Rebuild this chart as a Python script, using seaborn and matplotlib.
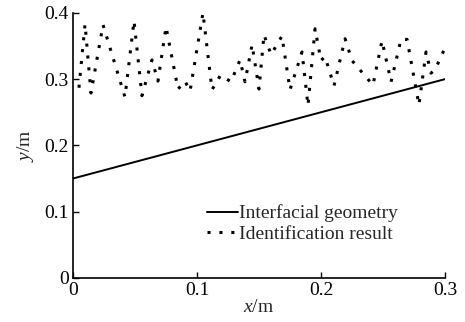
import matplotlib
matplotlib.use("Agg")
import matplotlib.pyplot as plt
import seaborn as sns
import pandas as pd

# interfacial geometry (straight line)
geom_x = [0.0, 0.3]
geom_y = [0.15, 0.30]

# identification result
ident_x = [0.0048, 0.0097, 0.0145, 0.0242, 0.0419, 0.0492, 0.0556, 0.0637, 0.0685,
           0.0750, 0.0847, 0.0903, 0.0944, 0.1048, 0.1121, 0.1190, 0.1274, 0.1347,
           0.1387, 0.1444, 0.1500, 0.1540, 0.1597, 0.1685, 0.1750, 0.1847, 0.1895,
           0.1952, 0.2000, 0.2032, 0.2105, 0.2194, 0.2250, 0.2419, 0.2492, 0.2565,
           0.2645, 0.2694, 0.2790, 0.2847, 0.2887, 0.2919, 0.3000]
ident_y = [0.287, 0.383, 0.279, 0.382, 0.273, 0.388, 0.275, 0.329, 0.297,
           0.379, 0.285, 0.297, 0.282, 0.400, 0.284, 0.306, 0.296, 0.329,
           0.296, 0.352, 0.285, 0.367, 0.337, 0.365, 0.284, 0.341, 0.260,
           0.376, 0.328, 0.334, 0.290, 0.361, 0.328, 0.291, 0.358, 0.296,
           0.360, 0.360, 0.261, 0.341, 0.309, 0.314, 0.347]

x_ticks = [0, 0.1, 0.2, 0.3]
x_ticklabels = ["0", "0.1", "0.2", "0.3"]
y_ticks = [0, 0.1, 0.2, 0.3, 0.4]
y_ticklabels = ["0", "0.1", "0.2", "0.3", "0.4"]

geom = pd.DataFrame({"x": geom_x, "y": geom_y})
ident = pd.DataFrame({"x": ident_x, "y": ident_y})

sns.set_style("ticks")
plt.rcParams["font.family"] = ["Liberation Serif", "DejaVu Serif"]
plt.rcParams["mathtext.fontset"] = "custom"
plt.rcParams["mathtext.it"] = "Liberation Serif:italic"
plt.rcParams["mathtext.rm"] = "Liberation Serif"

fig = plt.figure(figsize=(4.65, 3.22), dpi=100)
ax = fig.add_axes([0.157, 0.137, 0.80, 0.823])

sns.lineplot(data=geom, x="x", y="y", color="black", linewidth=1.4,
             label="Interfacial geometry", ax=ax)
sns.lineplot(data=ident, x="x", y="y", color="black", linewidth=2.2,
             linestyle=(0, (1, 2.9)), sort=False, estimator=None,
             label="Identification result", ax=ax)

ax.set_xlim(0, 0.3)
ax.set_ylim(0, 0.4)
ax.set_xticks(x_ticks)
ax.set_xticklabels(x_ticklabels)
ax.set_yticks(y_ticks)
ax.set_yticklabels(y_ticklabels)
ax.tick_params(direction="in", length=4, width=1, labelsize=14, colors="black", pad=3)
for s in ["left", "bottom"]:
    ax.spines[s].set_linewidth(1.2)
    ax.spines[s].set_color("black")
sns.despine(ax=ax)

ax.set_xlabel("$x$/m", fontsize=14, labelpad=0)
ax.set_ylabel("$y$/m", fontsize=14, labelpad=6)

leg = ax.legend(loc="lower right", bbox_to_anchor=(0.9, 0.095), frameon=False,
                fontsize=14, handlelength=1.6, handletextpad=0.05,
                labelspacing=0.15, borderpad=0)
for line in leg.get_lines():
    line.set_color("black")

fig.savefig("out.png", dpi=100)
